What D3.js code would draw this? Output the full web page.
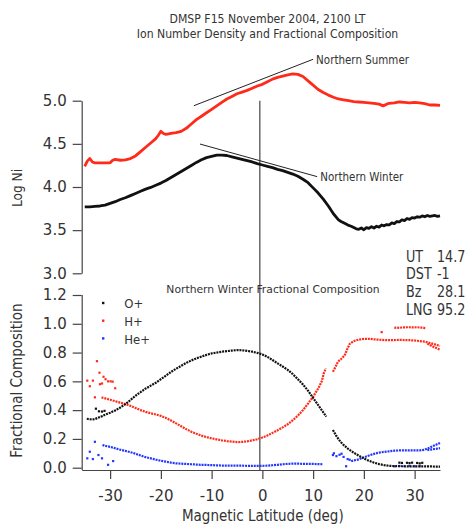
<!DOCTYPE html>
<html><head><meta charset="utf-8">
<script src="https://cdn.jsdelivr.net/npm/d3@7"></script>
<style>
body{margin:0;background:#fff}
svg{display:block}
text{font-family:"DejaVu Sans",sans-serif;fill:#333}
</style>
</head><body>
<svg id="c" width="476" height="524"></svg>
<script>
// ---------- data ----------
const titleLines = ["DMSP F15 November 2004, 2100 LT", "Ion Number Density and Fractional Composition"];
const logTicks = [3.0, 3.5, 4.0, 4.5, 5.0];
const fracTicks = [0.0, 0.2, 0.4, 0.6, 0.8, 1.0, 1.2];
const latTicks = [-30, -20, -10, 0, 10, 20, 30];
const statLabels = ["UT", "DST", "Bz", "LNG"];
const statValues = ["14.7", "-1", "28.1", "95.2"];
const legendLabels = ["O+", "H+", "He+"];
const noonLat = -0.5;

// Log Ni, Northern Summer (red)
const summerNi = [[-35,4.24],[-34.5,4.30],[-34,4.33],[-33.5,4.29],[-33,4.28],[-32,4.28],[-31,4.28],[-30,4.28],[-29.5,4.31],[-29,4.32],[-28,4.31],[-27,4.315],[-26,4.33],[-25,4.36],[-24,4.41],[-23,4.46],[-22,4.51],[-21,4.56],[-20.5,4.60],[-20,4.645],[-19.5,4.62],[-19,4.61],[-18,4.62],[-17,4.63],[-16,4.645],[-15,4.68],[-14,4.73],[-13,4.78],[-12,4.82],[-11,4.86],[-10,4.90],[-9,4.94],[-8,4.98],[-7,5.02],[-6,5.05],[-5,5.08],[-4,5.10],[-3,5.12],[-2,5.145],[-1,5.17],[0,5.19],[1,5.22],[2,5.25],[3,5.27],[4,5.285],[5,5.30],[6,5.31],[7,5.305],[8,5.28],[9,5.23],[10,5.18],[11,5.13],[12,5.095],[13,5.065],[14,5.04],[15,5.02],[16,5.01],[17,5.0],[18,4.99],[19,4.985],[20,4.98],[21,4.975],[22,4.97],[23,4.96],[23.8,4.94],[24.5,4.96],[25,4.97],[26,4.975],[27,4.985],[28,4.98],[29,4.975],[30,4.98],[31,4.975],[32,4.965],[33,4.95],[34,4.95],[35,4.945]];
// Log Ni, Northern Winter (black)
const winterNi = [[-35,3.77],[-34,3.77],[-33,3.775],[-32,3.78],[-31,3.79],[-30,3.81],[-29,3.83],[-28,3.855],[-27,3.875],[-26,3.90],[-25,3.925],[-24,3.95],[-23,3.975],[-22,3.995],[-21,4.02],[-20,4.045],[-19,4.075],[-18,4.11],[-17,4.145],[-16,4.18],[-15,4.215],[-14,4.25],[-13,4.285],[-12,4.315],[-11,4.34],[-10,4.355],[-9,4.37],[-8,4.37],[-7,4.365],[-6,4.35],[-5,4.335],[-4,4.32],[-3,4.305],[-2,4.29],[-1,4.27],[0,4.255],[1,4.24],[2,4.225],[3,4.205],[4,4.19],[5,4.17],[6,4.15],[7,4.125],[8,4.09],[9,4.05],[10,3.99],[11,3.93],[12,3.86],[13,3.78],[14,3.69],[15,3.62],[15.5,3.60],[16,3.585],[16.5,3.57],[17,3.555],[17.5,3.545],[18,3.53],[18.5,3.515],[19,3.51],[19.5,3.525],[20,3.505],[20.5,3.53],[21,3.52],[21.5,3.54],[22,3.525],[22.5,3.545],[23,3.535],[23.5,3.56],[24,3.55],[24.5,3.565],[25,3.56],[25.5,3.585],[26,3.575],[26.5,3.60],[27,3.595],[27.5,3.62],[28,3.61],[28.5,3.635],[29,3.625],[29.5,3.645],[30,3.64],[30.5,3.655],[31,3.65],[31.5,3.665],[32,3.655],[32.5,3.67],[33,3.66],[33.5,3.665],[34,3.67],[34.5,3.66],[35,3.665]];
const summerFit = [[-13.5,4.942],[10.0,5.48]];
const winterFit = [[-12.3,4.498],[10.8,4.12]];
const annotLabels = ["Northern Summer", "Northern Winter"];
const panelLabel = "Northern Winter Fractional Composition";

// Fractional composition (null = data gap)
const oPlus = [[-34.6,0.34],[-34,0.337],[-33.5,0.335],[-33,0.338],[-32.5,0.345],[-32,0.352],[-31.5,0.36],[-31,0.368],[-30.5,0.375],[-30,0.382],[-29.5,0.39],[-29,0.398],[-28.5,0.408],[-28,0.418],[-27.5,0.43],[-27,0.442],[-26.5,0.455],[-26,0.47],[-25.5,0.485],[-25,0.5],[-24.5,0.513],[-24,0.525],[-23.5,0.538],[-23,0.55],[-22,0.57],[-21,0.59],[-20,0.615],[-19,0.64],[-18,0.665],[-17,0.688],[-16,0.708],[-15,0.728],[-14,0.745],[-13,0.76],[-12,0.772],[-11,0.784],[-10,0.794],[-9,0.8],[-8,0.806],[-7,0.81],[-6,0.814],[-5,0.817],[-4,0.816],[-3,0.812],[-2,0.806],[-1,0.798],[0,0.787],[1,0.77],[2,0.748],[3,0.725],[4,0.703],[5,0.68],[6,0.65],[7,0.615],[8,0.578],[9,0.535],[10,0.485],[11,0.435],[12,0.385],[12.6,0.355],[13.2,null],[13.9,0.262],[14.5,0.225],[15,0.198],[15.5,0.176],[16,0.158],[17,0.128],[18,0.104],[19,0.083],[20,0.064],[21,0.048],[22,0.035],[23,0.025],[24,0.018],[25,0.013],[26,0.011],[27,0.01],[28,0.01],[29,0.009],[30,0.01],[31,0.009],[32,0.009],[33,0.009],[34,0.008],[35,0.008]];
const oPlusScatter = [[-32.8,0.41],[-32.2,0.392],[-31.6,0.39],[-31.1,0.395],[27,0.035],[27.5,0.033],[28.5,0.034],[29,0.032],[29.5,0.035],[30.5,0.033],[31,0.03],[31.5,0.034]];
const hPlus = [[-31.7,0.488],[-31,0.482],[-30,0.472],[-29,0.462],[-28,0.452],[-27,0.442],[-26,0.43],[-25,0.415],[-24,0.4],[-23,0.388],[-22,0.378],[-21,0.37],[-20,0.36],[-19,0.346],[-18,0.328],[-17,0.308],[-16,0.288],[-15,0.268],[-14,0.25],[-13,0.236],[-12,0.223],[-11,0.212],[-10,0.204],[-9,0.197],[-8,0.19],[-7,0.185],[-6,0.181],[-5,0.178],[-4,0.179],[-3,0.183],[-2,0.19],[-1,0.198],[0,0.21],[1,0.224],[2,0.242],[3,0.26],[4,0.28],[5,0.302],[6,0.33],[7,0.362],[8,0.4],[9,0.445],[10,0.493],[11,0.55],[11.7,0.6],[12.1,0.655],[12.5,0.69],[13.2,null],[13.9,0.667],[14.4,0.7],[14.9,0.737],[15.5,0.755],[16.2,0.78],[16.8,0.83],[17.2,0.86],[17.7,0.872],[18.2,0.882],[19,0.89],[20,0.895],[21,0.896],[22,0.892],[23,0.889],[24,0.887],[25,0.886],[26,0.887],[27,0.888],[28,0.887],[29,0.886],[30,0.884],[31,0.88],[32,0.876],[33,0.866],[34,0.857],[35,0.846]];
const hPlusBranch = [[32.5,0.862],[33,0.852],[33.5,0.843],[34,0.836],[34.5,0.828],[35,0.82]];
const hPlusUpper = [[26,0.972],[26.5,0.973],[27,0.972],[27.5,0.974],[28,0.975],[28.5,0.976],[29,0.976],[29.5,0.975],[30,0.975],[30.5,0.976],[31,0.974],[31.5,0.973],[32.2,0.97]];
const hPlusScatter = [[-34.5,0.605],[-34,0.566],[-33.4,0.605],[-33,0.489],[-32.6,0.74],[-32.1,0.66],[-32,0.58],[-31.6,0.585],[-31.3,0.632],[-30.9,0.615],[-30.4,0.6],[-29.9,0.6],[-29.5,0.598],[-29,0.552],[23.5,0.942]];
const hePlus = [[-31.5,0.158],[-31,0.152],[-30,0.145],[-29,0.135],[-28,0.125],[-27,0.117],[-26,0.108],[-25,0.097],[-24,0.085],[-23,0.073],[-22,0.065],[-21,0.056],[-20,0.048],[-19,0.042],[-18,0.035],[-17,0.03],[-16,0.028],[-15,0.026],[-14,0.024],[-13,0.022],[-12,0.02],[-11,0.019],[-10,0.018],[-9,0.016],[-8,0.015],[-7,0.015],[-6,0.014],[-5,0.014],[-4,0.014],[-3,0.013],[-2,0.013],[-1,0.013],[0,0.013],[1,0.014],[2,0.017],[3,0.02],[4,0.024],[5,0.027],[6,0.028],[7,0.028],[8,0.027],[9,0.026],[10,0.026],[11,0.025],[11.9,0.024],[13.2,null],[17.5,0.045],[18,0.05],[19,0.058],[20,0.072],[21,0.085],[22,0.096],[23,0.105],[24,0.11],[25,0.114],[26,0.118],[27,0.12],[28,0.121],[29,0.12],[30,0.121],[31,0.12],[32,0.125],[33,0.14],[34,0.156],[35,0.172]];
const hePlusBranch = [[32.5,0.122],[33,0.126],[34,0.13],[35,0.136]];
const hePlusScatter = [[-34.5,0.065],[-34,0.111],[-33.4,0.06],[-33,0.18],[-32.3,0.088],[-31.6,0.065],[-30.4,0.02],[-29.4,0.046],[13.9,0.088],[14.1,0.1],[14.6,0.08],[15.2,0.09],[15.6,0.097],[16,0.075],[16.5,0.01],[16.8,0.06],[17.2,0.055],[26,0.01],[27,0.012],[28,0.01],[29,0.012],[30,0.01],[31,0.011]];

// ---------- styles ----------
const C_O = "#111", C_H = "#ff2a1a", C_He = "#2236ff", C_AX = "#444";

// ---------- scales ----------
const svg = d3.select("#c");
const x = d3.scaleLinear().domain([-35.6, 35]).range([81.7, 440]);
const yTop = d3.scaleLinear().domain([3, 5]).range([273.3, 100.7]);
const yBot = d3.scaleLinear().domain([0, 1.2]).range([467.7, 295]);
const axisY = 470;

function addText(g, px, py, s, size, sx, anchor, rot) {
  return g.append("text")
    .attr("transform", `translate(${px},${py})` + (rot ? ` rotate(${rot})` : "") + ` scale(${sx},1)`)
    .attr("text-anchor", anchor || "start")
    .attr("font-size", size)
    .text(s);
}

// title
titleLines.forEach((t, i) => addText(svg, 267.5, 22.5 + i * 15, t, 13, 0.84, "middle"));

// top axis
const gTop = svg.append("g").attr("transform", "translate(81.7,0)")
  .call(d3.axisLeft(yTop).tickValues(logTicks).tickFormat(d3.format(".1f")).tickSize(9).tickSizeOuter(0).tickPadding(6));
// bottom left axis
const gBot = svg.append("g").attr("transform", "translate(81.7,0)")
  .call(d3.axisLeft(yBot).tickValues(fracTicks).tickFormat(d3.format(".1f")).tickSize(9).tickSizeOuter(0).tickPadding(6));
gBot.select(".domain").attr("d", `M0.5,${yBot(1.2)}V${axisY}`);
// x axis
const gX = svg.append("g").attr("transform", `translate(0,${axisY})`)
  .call(d3.axisBottom(x).tickValues(latTicks).tickFormat(d => String(d)).tickSize(9).tickSizeOuter(0).tickPadding(11));
[gTop, gBot, gX].forEach(g => {
  g.attr("font-family", null).attr("font-size", 15);
  g.selectAll("path,line").attr("stroke", C_AX).attr("stroke-width", 1.2);
  g.selectAll("text").attr("fill", "#333");
});

// axis titles
addText(svg, 22, 188, "Log Ni", 14, 0.87, "middle", -90);
addText(svg, 22, 380.5, "Fractional Composition", 15, 0.9, "middle", -90);
addText(svg, 262.8, 521, "Magnetic Latitude (deg)", 15, 0.9, "middle");

// vertical reference line
svg.append("line").attr("x1", x(noonLat)).attr("x2", x(noonLat))
  .attr("y1", yTop(5)).attr("y2", axisY).attr("stroke", C_AX).attr("stroke-width", 1.2);

// top panel lines
const lineTop = d3.line().x(d => x(d[0])).y(d => yTop(d[1]));
svg.append("path").datum(summerNi).attr("d", lineTop).attr("fill", "none").attr("stroke", C_H).attr("stroke-width", 2.8).attr("stroke-linejoin", "round");
svg.append("path").datum(winterNi).attr("d", lineTop).attr("fill", "none").attr("stroke", C_O).attr("stroke-width", 2.8).attr("stroke-linejoin", "round");

// annotation lines & labels
[summerFit, winterFit].forEach((f, i) => {
  svg.append("path").datum(f).attr("d", lineTop).attr("fill", "none").attr("stroke", "#222").attr("stroke-width", 1);
  const e = f[1];
  addText(svg, x(e[0]) + 3, yTop(e[1]) + 4.5, annotLabels[i], 12, 0.86, "start");
});

// stats
statLabels.forEach((s, i) => {
  addText(svg, 406, 261.5 + i * 17.7, s, 15, 0.85, "start");
  addText(svg, 437, 261.5 + i * 17.7, statValues[i], 15, 0.85, "start");
});

// panel label
addText(svg, 273, 292.5, panelLabel, 11, 0.98, "middle");

// bottom panel dotted series
const lineBot = d3.line().defined(d => d[1] != null).x(d => x(d[0])).y(d => yBot(d[1]));
function dotted(data, color) {
  svg.append("path").datum(data).attr("d", lineBot).attr("fill", "none")
    .attr("stroke", color).attr("stroke-width", 2.2).attr("stroke-dasharray", "2,0.9");
}
function scatter(data, color) {
  svg.append("g").selectAll("rect").data(data).join("rect")
    .attr("x", d => x(d[0]) - 1.1).attr("y", d => yBot(d[1]) - 1.1)
    .attr("width", 2.2).attr("height", 2.2).attr("fill", color);
}
dotted(hePlus, C_He); dotted(hePlusBranch, C_He); scatter(hePlusScatter, C_He);
dotted(hPlus, C_H); dotted(hPlusBranch, C_H); dotted(hPlusUpper, C_H); scatter(hPlusScatter, C_H);
dotted(oPlus, C_O); scatter(oPlusScatter, C_O);

// legend
const legColors = [C_O, C_H, C_He];
legendLabels.forEach((l, i) => {
  const ly = 303 + i * 17.7;
  svg.append("rect").attr("x", 102).attr("y", ly - 1.2).attr("width", 2.4).attr("height", 2.4).attr("fill", legColors[i]);
  addText(svg, 124.3, ly + 5.3, l, 13, 0.9, "start");
});
</script>
</body></html>
